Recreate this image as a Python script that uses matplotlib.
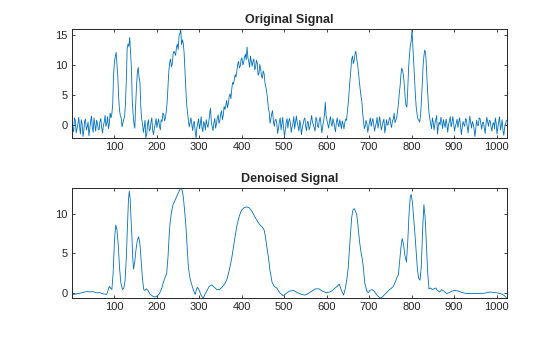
import matplotlib
matplotlib.use("Agg")
import matplotlib.pyplot as plt
import numpy as np

x_orig = np.arange(1, 1025, 2)
y_orig = [
    0.4, -0.5, -1.1, 1.2, 0.8, -1.3, -0.6, 0.1, 1.3, -0.2, -1.5, 0.9, 0.2, -1.9, -0.9, 0.7,
    1.0, -0.8, -0.3, 0.5, -1.8, -0.6, 0.6, 1.5, -0.4, -1.2, 1.2, 0.0, -1.0, 0.8, 0.3, -0.7,
    -0.8, 0.6, 1.1, -0.4, -1.3, -0.1, 0.5, 1.6, -0.2, 0.3, 1.4, -0.6, 0.3, 2.0, 1.2, 1.9,
    3.5, 8.2, 10.5, 11.4, 12.1, 10.0, 8.0, 4.6, 2.5, 1.5, 1.2, -0.3, 0.4, 0.9, 1.5, 3.6,
    7.5, 12.8, 13.5, 13.1, 14.6, 12.2, 9.5, 4.0, 1.8, 0.2, -0.5, 3.4, 6.5, 8.8, 9.6, 7.9,
    7.2, 3.2, 1.0, 0.3, -1.2, -0.4, 0.8, -2.1, -1.5, 0.2, 0.9, -1.0, -0.7, 0.5, 1.2, -0.9,
    -1.6, -0.5, 0.2, 1.1, -0.4, 0.4, 1.0, -0.2, -0.8, 0.9, 0.6, 2.0, 1.8, 0.7, 1.2, 2.3,
    3.8, 6.5, 9.0, 10.4, 11.0, 9.7, 10.2, 11.8, 12.3, 12.0, 11.6, 13.0, 13.5, 12.6, 14.8, 15.2,
    16.0, 13.4, 14.2, 13.6, 12.0, 9.0, 6.0, 3.4, 2.0, 0.8, -0.3, 0.5, 1.2, 0.1, -0.9, 0.4,
    0.6, -1.0, -2.2, -0.4, 0.3, 1.0, -0.6, 0.2, 1.4, -0.5, -1.1, 0.6, 0.2, -0.8, 0.9, 0.1,
    -0.4, 0.6, 1.8, 2.8, 0.5, -0.3, -0.9, 0.4, 1.1, -0.5, 0.2, 1.2, 1.7, 0.3, 0.8, 1.9,
    2.4, 0.9, 1.6, 3.1, 2.6, 3.3, 4.1, 2.9, 3.6, 4.8, 5.2, 4.4, 6.0, 7.1, 6.8, 7.6,
    8.4, 8.0, 9.0, 10.1, 10.6, 9.5, 9.8, 10.9, 11.2, 10.0, 10.4, 11.3, 11.8, 10.9, 13.0, 11.2,
    10.6, 9.6, 11.5, 10.7, 9.8, 10.6, 11.0, 9.2, 9.6, 10.8, 10.3, 8.3, 8.6, 10.1, 9.4, 8.1,
    7.8, 9.0, 8.6, 7.1, 6.4, 5.6, 4.5, 2.9, 2.2, 0.3, 1.0, 1.9, 2.4, 0.6, -0.2, 0.8,
    1.0, 0.2, -1.4, -0.5, 0.6, 1.2, -0.8, 0.3, 1.3, -0.6, -1.9, -0.9, 0.4, 1.1, -0.5, 0.6,
    1.1, 0.2, -1.2, -0.3, 0.3, 1.4, -0.6, 0.5, 1.5, 0.4, -0.2, -1.0, 0.8, 0.0, -1.6, -0.4,
    0.2, 0.9, 1.2, -0.3, -0.9, 0.6, 0.5, -0.8, -0.3, 0.7, 1.6, 0.4, 0.1, -0.5, -1.0, 1.3,
    0.9, -0.2, -0.4, 0.8, 1.3, 0.1, -1.3, -0.2, 0.6, 1.7, 3.8, 1.5, 0.8, 0.1, -0.5, 0.6,
    1.4, 0.3, -0.2, 1.1, 0.5, -0.4, -1.1, 0.4, 1.2, 0.2, -0.3, 0.9, 0.2, -0.6, 0.7, 0.1,
    -0.6, 0.4, 1.0, 0.8, 2.2, 3.6, 5.5, 7.4, 9.0, 10.9, 11.5, 10.2, 10.8, 11.9, 12.3, 11.0,
    10.2, 8.8, 7.5, 6.0, 4.8, 4.0, 2.0, 0.6, -0.6, -0.1, 0.8, 0.2, -1.2, -0.3, 0.5, 1.2,
    -0.2, 0.5, 1.1, 0.0, -1.0, -0.2, 0.4, 1.3, -0.5, 0.3, 1.4, 0.2, -0.8, -0.1, 0.6, 1.0,
    -1.3, -0.4, 0.9, 0.0, 0.1, 0.9, 1.3, 0.2, -0.4, 0.7, 1.0, 2.0, 0.4, 0.8, 1.2, 2.3,
    3.5, 5.2, 6.5, 8.4, 9.5, 9.0, 8.2, 6.6, 4.5, 3.2, 3.0, 6.0, 9.5, 11.6, 13.2, 14.0,
    15.8, 13.1, 10.5, 7.6, 5.0, 2.9, 1.8, 1.0, 0.8, 0.5, 1.5, 3.8, 6.5, 9.8, 11.5, 12.5,
    12.0, 9.6, 6.5, 4.0, 2.0, 1.0, 0.2, -0.6, 1.2, 0.4, -0.8, 0.3, 0.9, 1.6, -1.5, -0.2,
    0.5, 0.0, 1.3, 0.6, -0.6, 0.9, 0.2, -0.4, 1.0, 0.2, -1.2, 0.1, 0.7, 1.4, -0.3, 0.4,
    1.4, 0.3, -1.0, -0.2, 0.3, 1.0, -0.4, 0.5, 1.2, 0.0, -1.6, -0.5, 0.6, 0.1, -0.2, 1.1,
    0.9, -0.3, -1.3, 0.2, 1.5, 0.4, -0.5, 0.6, 0.2, -0.7, -1.9, -0.6, 0.8, 0.0, -0.1, 1.2,
    1.1, 0.2, -0.7, 0.4, 0.5, -0.5, -1.4, 0.1, 1.3, 0.5, -0.2, 0.8, 0.7, -0.3, -1.0, 0.2,
    0.4, -0.6, 1.2, 0.3, -1.5, -0.3, 0.6, 1.4, -0.8, -0.1, 0.9, -0.9, -1.7, -0.4, 0.2, 0.8,
]

# signal debruite, points
x_den = [1, 4, 12, 20, 28, 36, 43, 50, 58, 67,
         75, 83, 86, 89, 92, 95, 98, 101, 104, 107,
         110, 113, 116, 120, 123, 126, 129, 132, 134, 136,
         138, 140, 142, 144, 146, 149, 152, 155, 158, 161,
         164, 167, 170, 173, 176, 180, 185, 190, 196, 202,
         207, 212, 216, 220, 224, 227, 230, 232, 235, 239,
         244, 249, 253, 257, 260, 263, 266, 269, 272, 275,
         279, 283, 287, 291, 294, 296, 299, 304, 307, 310,
         314, 318, 324, 330, 336, 342, 348, 354, 360, 365,
         371, 377, 383, 389, 395, 400, 406, 412, 418, 424,
         430, 436, 442, 448, 453, 456, 459, 463, 467, 472,
         477, 483, 490, 498, 505, 512, 522, 532, 541, 549,
         557, 565, 574, 582, 590, 600, 608, 614, 620, 625,
         630, 635, 640, 644, 648, 651, 655, 659, 662, 665,
         668, 671, 674, 677, 680, 683, 686, 690, 694, 698,
         702, 707, 712, 717, 722, 727, 732, 737, 741, 746,
         751, 757, 762, 766, 769, 772, 775, 778, 781, 784,
         788, 791, 794, 797, 799, 802, 805, 808, 811, 814,
         817, 820, 823, 826, 829, 832, 835, 838, 841, 845,
         849, 853, 857, 861, 866, 871, 876, 882, 888, 895,
         902, 910, 920, 930, 945, 960, 972, 980, 985, 990,
         1000, 1008, 1014, 1019, 1024]
y_den = [-0.3, -0.2, -0.15, -0.05, 0.05, 0.15, 0.1, 0.15, 0.0, 0.0,
         -0.15, -0.2, 0.3, 0.8, 0.6, 0.4, 2.5, 6.5, 8.6, 8.0,
         6.1, 3.2, 1.3, 0.4, 0.6, 1.5, 4.5, 9.0, 11.8, 12.9,
         12.0, 9.5, 7.4, 4.5, 3.0, 4.0, 5.6, 6.7, 7.1, 6.2,
         4.0, 1.8, 0.4, 0.3, 0.5, 0.3, -0.2, -0.4, -0.55, -0.4,
         -0.1, 0.5, 1.3, 1.9, 2.5, 4.5, 7.5, 8.9, 10.2, 11.2,
         11.8, 12.4, 12.9, 13.3, 13.1, 12.2, 10.5, 8.6, 5.8, 3.2,
         1.8, 1.0, 0.3, -0.2, 0.4, 0.7, 0.5, -0.2, -0.5, -0.7,
         -0.2, 0.2, 0.8, 1.0, 0.7, 0.4, 0.4, 0.7, 1.1, 1.6,
         2.8, 4.4, 6.5, 8.5, 9.8, 10.5, 10.8, 10.9, 10.8, 10.4,
         9.8, 9.2, 8.7, 8.4, 8.0, 7.2, 6.0, 4.6, 2.8, 1.3,
         0.8, 0.6, 0.0, -0.4, -0.1, 0.2, 0.3, 0.0, -0.2, -0.3,
         -0.1, 0.2, 0.5, 0.5, 0.2, 0.0, 0.1, 0.3, 0.6, 0.8,
         1.1, 0.3, -0.3, 0.5, 1.8, 3.2, 6.5, 9.5, 10.5, 10.7,
         10.4, 9.9, 8.5, 6.8, 5.5, 4.6, 3.5, 1.2, 0.3, 0.0,
         0.3, 0.4, 0.2, -0.2, -0.5, -0.7, -0.5, -0.2, 0.0, 0.3,
         0.5, 0.8, 1.4, 2.0, 2.3, 4.0, 5.8, 6.9, 6.2, 4.8,
         3.9, 6.5, 10.0, 12.2, 12.5, 11.5, 9.5, 7.4, 5.0, 2.8,
         1.8, 1.6, 3.5, 8.0, 11.2, 9.5, 6.1, 2.5, 0.5, 0.6,
         0.4, 0.5, 0.6, 0.3, 0.1, 0.4, 0.2, -0.1, 0.0, 0.2,
         0.3, 0.2, 0.0, -0.1, -0.1, -0.1, -0.05, 0.05, 0.1, 0.05,
         0.0, -0.1, -0.2, -0.4, -0.7]

bleu = "#0072BD"
gris = "#262626"

plt.rcParams["font.family"] = ["Liberation Sans", "DejaVu Sans"]
fig = plt.figure(figsize=(5.6, 3.37), dpi=100)
ax1 = fig.add_axes([0.1284, 0.5896, 0.7766, 0.3244])
ax2 = fig.add_axes([0.1284, 0.115, 0.7766, 0.328])

ax1.plot(x_orig, y_orig, color=bleu, linewidth=0.6)
ax1.set_ylim(-2.2, 16.0)
ax1.set_yticks([0, 5, 10, 15])
ax1.set_title("Original Signal", fontsize=9, fontweight="bold", color=gris, pad=4)

ax2.plot(x_den, y_den, color=bleu, linewidth=0.6)
ax2.set_ylim(-0.7, 13.35)
ax2.set_yticks([0, 5, 10])
ax2.set_title("Denoised Signal", fontsize=9, fontweight="bold", color=gris, pad=4)

for ax in (ax1, ax2):
    ax.set_xlim(1, 1024)
    ax.set_xticks(range(100, 1001, 100))
    ax.tick_params(direction="in", length=2.5, width=0.6, labelsize=8, colors=gris,
                   top=True, right=True, pad=3)
    for s in ax.spines.values():
        s.set_color(gris)
        s.set_linewidth(0.7)

plt.savefig("out.png", dpi=100)
